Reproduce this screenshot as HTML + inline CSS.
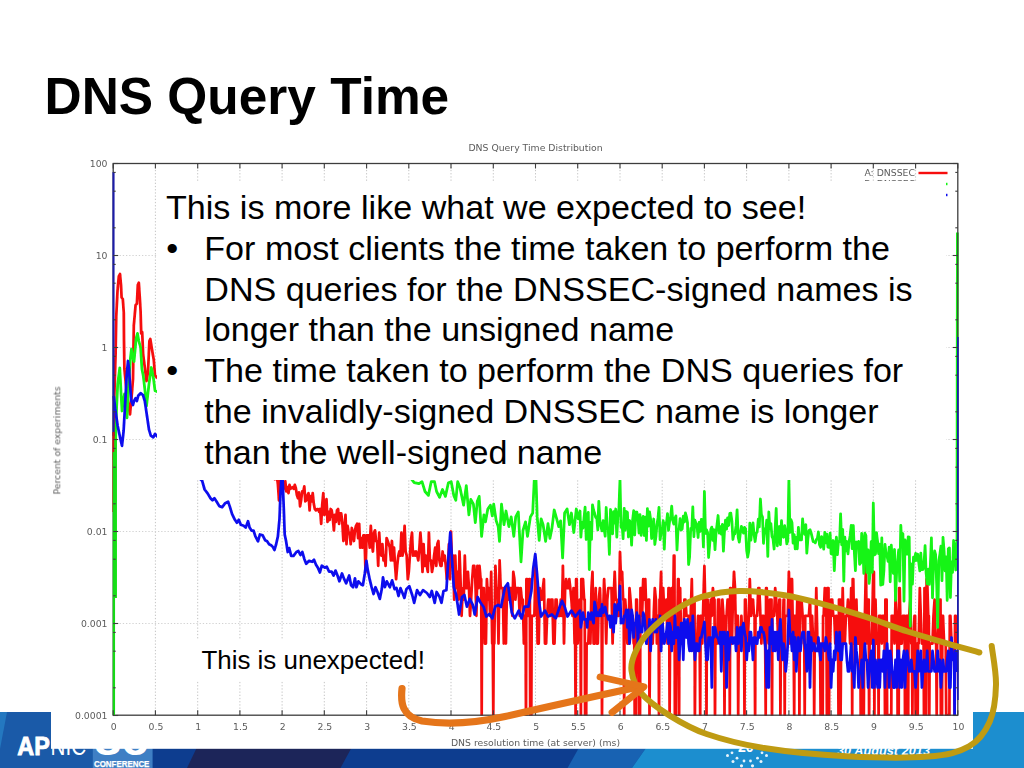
<!DOCTYPE html>
<html lang="en">
<head>
<meta charset="utf-8">
<title>DNS Query Time</title>
<style>
html,body{margin:0;padding:0;}
body{width:1024px;height:768px;position:relative;overflow:hidden;background:#fff;font-family:"Liberation Sans",sans-serif;color:#000;}
h1{position:absolute;left:44.6px;top:66.6px;margin:0;font-size:51.4px;line-height:58px;font-weight:bold;white-space:nowrap;letter-spacing:0;}
.footer{position:absolute;left:0;top:712px;width:1024px;height:56px;}
.chart{position:absolute;left:0;top:0;}
.tb{position:absolute;left:157px;top:181px;width:789px;height:299px;background:#fff;}
.tb .t{position:absolute;left:9px;top:6px;font-size:34.1px;line-height:40.8px;white-space:nowrap;}
.tb ul{list-style:none;margin:0;padding:0;}
.tb li{position:relative;padding-left:38.3px;}
.tb li .b{position:absolute;left:0.2px;top:0px;}
.ub{position:absolute;left:194px;top:639px;width:238px;height:40.5px;background:#fff;}
.ub span{position:absolute;left:7.4px;top:5.5px;font-size:25.95px;line-height:30px;white-space:nowrap;}
.ov{position:absolute;left:0;top:0;}
</style>
</head>
<body>
<h1>DNS Query Time</h1>

<svg class="footer" width="1024" height="56" viewBox="0 712 1024 56">
  <rect x="0" y="712" width="1024" height="56" fill="#0d3d8f"/>
  <polygon points="0,712 152.5,712 152.5,768 0,768" fill="#1a5aa8"/>
  <polygon points="0,712 7,712 0,749" fill="#2478c0"/>
  <polygon points="214,712 371,712 340.5,768 187,768" fill="#1c2559"/>
  <polygon points="599,712 671,712 632,768 567.6,768" fill="#1862b2"/>
  <polygon points="671,712 1024,712 1024,768 632,768" fill="#1c8ecf"/>
  <rect x="92.8" y="730" width="59.7" height="38" fill="#3f7fc4"/>
  <text x="17.3" y="755.2" font-family="'Liberation Sans',sans-serif" font-weight="bold" font-size="26" fill="#fff" stroke="#fff" stroke-width="0.9" textLength="32.5" lengthAdjust="spacingAndGlyphs">AP</text>
  <text x="50.6" y="755.2" font-family="'Liberation Sans',sans-serif" font-size="26" fill="#fff" textLength="35.5" lengthAdjust="spacingAndGlyphs">NIC</text>
  <text x="94.5" y="755.4" font-family="'Liberation Sans',sans-serif" font-weight="bold" font-size="40" fill="#fff" textLength="54" lengthAdjust="spacingAndGlyphs">36</text>
  <text x="94" y="766.7" font-family="'Liberation Sans',sans-serif" font-weight="bold" font-size="9.2" fill="#fff" stroke="#fff" stroke-width="0.25" textLength="55.4" lengthAdjust="spacingAndGlyphs">CONFERENCE</text>
  <text x="837" y="755.2" font-family="'Liberation Sans',sans-serif" font-weight="bold" font-style="italic" font-size="13" fill="#fff" textLength="93" lengthAdjust="spacingAndGlyphs">30 August 2013</text>
  <text x="738" y="751.5" font-family="'Liberation Sans',sans-serif" font-weight="bold" font-size="14" fill="#fff">20</text>
  <g fill="#e8f4fb">
    <circle cx="727.5" cy="755.5" r="1.5"/><circle cx="732" cy="752.8" r="1.4"/><circle cx="766.5" cy="755.5" r="1.5"/><circle cx="762" cy="752.8" r="1.4"/>
    <circle cx="733" cy="761.5" r="1.5"/><circle cx="737" cy="758.2" r="1.4"/><circle cx="761" cy="761.5" r="1.5"/><circle cx="757.5" cy="758.2" r="1.4"/>
    <circle cx="741.5" cy="765.8" r="1.6"/><circle cx="744" cy="761" r="1.4"/><circle cx="752.5" cy="765.8" r="1.6"/><circle cx="750.5" cy="761" r="1.4"/>
  </g>
</svg>

<svg class="chart" width="1024" height="768" viewBox="0 0 1024 768">
<rect x="51" y="133" width="922" height="615.8" fill="#fff"/>
<filter id="bl" x="0" y="0" width="1024" height="768" filterUnits="userSpaceOnUse"><feGaussianBlur stdDeviation="0.55"/></filter>
<g filter="url(#bl)">
<g stroke="#c4c4c4" stroke-width="1" stroke-dasharray="1.3 1.9" fill="none">
<line x1="155.4" y1="163.5" x2="155.4" y2="715.2"/>
<line x1="197.7" y1="163.5" x2="197.7" y2="715.2"/>
<line x1="239.9" y1="163.5" x2="239.9" y2="715.2"/>
<line x1="282.1" y1="163.5" x2="282.1" y2="715.2"/>
<line x1="324.3" y1="163.5" x2="324.3" y2="715.2"/>
<line x1="366.6" y1="163.5" x2="366.6" y2="715.2"/>
<line x1="408.8" y1="163.5" x2="408.8" y2="715.2"/>
<line x1="451.0" y1="163.5" x2="451.0" y2="715.2"/>
<line x1="493.3" y1="163.5" x2="493.3" y2="715.2"/>
<line x1="535.5" y1="163.5" x2="535.5" y2="715.2"/>
<line x1="577.7" y1="163.5" x2="577.7" y2="715.2"/>
<line x1="620.0" y1="163.5" x2="620.0" y2="715.2"/>
<line x1="662.2" y1="163.5" x2="662.2" y2="715.2"/>
<line x1="704.4" y1="163.5" x2="704.4" y2="715.2"/>
<line x1="746.6" y1="163.5" x2="746.6" y2="715.2"/>
<line x1="788.9" y1="163.5" x2="788.9" y2="715.2"/>
<line x1="831.1" y1="163.5" x2="831.1" y2="715.2"/>
<line x1="873.3" y1="163.5" x2="873.3" y2="715.2"/>
<line x1="915.6" y1="163.5" x2="915.6" y2="715.2"/>
<line x1="113.2" y1="255.5" x2="957.8" y2="255.5" stroke="#d2d2d2"/>
<line x1="113.2" y1="347.5" x2="957.8" y2="347.5" stroke="#d2d2d2"/>
<line x1="113.2" y1="439.5" x2="957.8" y2="439.5" stroke="#d2d2d2"/>
<line x1="113.2" y1="531.5" x2="957.8" y2="531.5" stroke="#d2d2d2"/>
<line x1="113.2" y1="623.5" x2="957.8" y2="623.5" stroke="#d2d2d2"/>
</g>
<clipPath id="pc"><rect x="111.7" y="163.5" width="847.6" height="552.3"/></clipPath>
<g clip-path="url(#pc)" fill="none" stroke-width="2.75" stroke-linejoin="round" stroke-linecap="butt">
<polyline stroke="#f60c0c" points="114.0,460.0 114.2,400.0 115.6,353.8 116.2,317.8 117.5,291.0 118.8,276.4 120.0,274.0 121.0,285.0 121.6,297.5 122.8,299.0 123.8,313.0 124.0,341.0 124.4,369.0 127.0,395.0 130.0,414.4 132.0,392.0 133.0,378.8 133.8,325.6 135.6,305.0 136.9,303.8 137.8,285.0 138.8,282.7 139.7,296.0 140.6,311.5 141.2,333.4 142.2,332.0 143.1,353.8 145.0,369.0 146.5,381.0 148.0,372.0 149.4,341.0 150.3,339.0 151.9,349.0 153.8,360.0 155.0,375.6 200.0,420.0 273.7,478.0 273.7,478.0 274.7,479.2 275.8,478.6 276.8,476.1 277.9,484.1 279.0,500.3 280.0,479.2 281.1,482.0 282.1,471.5 283.2,489.7 284.2,482.0 285.3,481.3 286.3,491.4 287.4,487.2 288.5,493.2 289.5,484.9 290.6,488.8 291.6,488.0 292.7,487.2 293.7,488.8 294.8,484.9 295.8,488.0 296.9,495.1 298.0,498.2 299.0,492.3 300.1,506.3 301.1,500.3 302.2,491.4 303.2,492.3 304.3,486.4 305.3,501.4 306.4,500.3 307.5,495.1 308.5,493.2 309.6,510.4 310.6,496.1 311.7,501.4 312.7,493.2 313.8,503.8 314.8,509.0 315.9,510.4 317.0,509.0 318.0,509.0 319.1,511.8 320.1,509.0 321.2,523.8 322.2,505.0 323.3,493.2 324.4,514.9 325.4,506.3 326.5,499.2 327.5,521.9 328.6,511.8 329.6,520.0 330.7,509.0 331.7,510.4 332.8,518.2 333.9,530.3 334.9,514.9 336.0,521.9 337.0,510.4 338.1,509.0 339.1,523.8 340.2,513.3 341.2,513.3 342.3,521.9 343.4,541.0 344.4,535.3 345.5,514.9 346.5,544.2 347.6,525.9 348.6,532.7 349.7,532.7 350.7,544.2 351.8,528.0 352.9,532.7 353.9,541.0 355.0,530.3 356.0,525.9 357.1,523.8 358.1,538.1 359.2,523.8 360.2,547.7 361.3,538.1 362.4,547.7 363.4,535.3 364.5,535.3 365.5,571.9 366.6,535.3 367.6,535.3 368.7,535.3 369.7,547.7 370.8,525.9 371.9,544.2 372.9,551.5 374.0,532.7 375.0,530.3 376.1,541.0 377.1,541.0 378.2,565.8 379.2,532.7 380.3,551.5 381.4,555.7 382.4,544.2 383.5,560.4 384.5,555.7 385.6,565.8 386.6,538.1 387.7,541.0 388.8,544.2 389.8,547.7 390.9,560.4 391.9,541.0 393.0,560.4 394.0,547.7 395.1,565.8 396.1,579.2 397.2,565.8 398.3,555.7 399.3,551.5 400.4,555.7 401.4,532.7 402.5,555.7 403.5,547.7 404.6,525.9 405.6,551.5 406.7,555.7 407.8,579.2 408.8,571.9 409.9,555.7 410.9,541.0 412.0,532.7 413.0,555.7 414.1,551.5 415.1,555.7 416.2,551.5 417.3,555.7 418.3,560.4 419.4,547.7 420.4,532.7 421.5,547.7 422.5,571.9 423.6,544.2 424.6,565.8 425.7,555.7 426.8,565.8 427.8,571.9 428.9,532.7 429.9,560.4 431.0,560.4 432.0,571.9 433.1,565.8 434.1,555.7 435.2,547.7 436.3,565.8 437.3,544.2 438.4,541.0 439.4,560.4 440.5,565.8 441.5,565.8 442.6,551.5 443.6,560.4 444.7,555.7 445.8,565.8 446.8,579.2 447.9,571.9 448.9,544.2 450.0,579.2 451.0,531.5 452.1,565.8 453.2,555.7 454.2,599.6 455.3,555.7 456.3,588.1 457.4,571.9 458.4,599.6 459.5,551.5 460.5,579.2 461.6,615.8 462.7,588.1 463.7,599.6 464.8,555.7 465.8,588.1 466.9,588.1 467.9,571.9 469.0,588.1 470.0,615.8 471.1,599.6 472.2,579.2 473.2,565.8 474.3,565.8 475.3,579.2 476.4,615.8 477.4,565.8 478.5,588.1 479.5,565.8 480.6,579.2 481.2,579.2 481.7,715.2 482.1,588.1 482.7,588.1 483.8,588.1 484.8,643.5 485.9,643.5 486.9,579.2 488.0,599.6 489.0,588.1 490.1,615.8 491.2,571.9 492.2,643.5 492.8,643.5 493.3,715.2 493.7,643.5 494.3,643.5 495.4,565.8 496.4,588.1 497.5,588.1 498.5,643.5 499.6,560.4 500.7,588.1 501.7,588.1 502.8,588.1 503.8,643.5 504.9,588.1 505.9,643.5 507.0,588.1 508.1,599.6 509.1,588.1 510.2,588.1 511.2,588.1 512.3,615.8 513.3,571.9 514.4,579.2 515.4,599.6 516.5,588.1 517.6,588.1 518.6,588.1 519.7,615.8 520.7,588.1 521.8,599.6 522.8,599.6 523.9,643.5 524.9,615.8 525.5,615.8 526.0,715.2 526.4,579.2 527.1,579.2 528.1,615.8 529.2,579.2 529.8,579.2 530.2,715.2 531.3,715.2 531.7,615.8 532.3,615.8 533.4,615.8 534.4,615.8 535.5,566.0 536.6,579.2 537.6,643.5 538.7,643.5 539.7,588.1 540.8,599.6 541.8,599.6 542.9,588.1 543.9,579.2 545.0,643.5 546.1,643.5 547.1,615.8 548.2,599.6 549.2,599.6 550.3,615.8 551.3,599.6 552.4,599.6 553.4,643.5 554.5,643.5 555.6,599.6 556.6,599.6 557.7,615.8 558.7,615.8 559.8,615.8 560.8,599.6 561.9,615.8 562.9,565.8 564.0,643.5 565.1,588.1 566.1,579.2 567.2,588.1 568.2,588.1 569.3,579.2 570.3,588.1 571.4,599.6 572.5,615.8 573.5,588.1 574.6,643.5 575.2,643.5 575.6,715.2 576.1,579.2 576.7,579.2 577.7,643.5 578.8,615.8 579.8,599.6 580.4,599.6 580.9,715.2 581.3,579.2 582.0,579.2 583.0,579.2 584.1,599.6 584.7,599.6 585.1,715.2 586.2,715.2 586.6,643.5 587.2,643.5 588.3,643.5 589.3,615.8 590.4,643.5 591.5,588.1 592.5,571.9 593.6,643.5 594.6,643.5 595.7,588.1 596.7,643.5 597.8,643.5 598.8,599.6 599.9,588.1 601.0,615.8 601.6,615.8 602.0,715.2 602.5,615.8 603.1,615.8 604.1,579.2 605.2,599.6 606.2,643.5 607.3,599.6 608.3,588.1 609.4,588.1 610.5,588.1 611.5,588.1 612.6,643.5 613.6,599.6 614.7,571.9 615.7,599.6 616.8,599.6 617.8,615.8 618.9,615.8 620.0,552.0 621.0,579.2 622.1,571.9 623.1,599.6 623.7,599.6 624.2,715.2 624.6,599.6 625.2,599.6 626.3,615.8 627.4,643.5 628.4,643.5 629.5,588.1 630.5,599.6 631.6,615.8 632.6,615.8 633.7,643.5 634.3,643.5 634.7,715.2 635.8,715.2 636.2,599.6 636.9,599.6 637.9,643.5 638.5,643.5 639.0,715.2 640.0,715.2 640.5,588.1 641.1,588.1 642.1,615.8 643.2,579.2 644.2,599.6 645.3,579.2 646.4,615.8 647.4,643.5 648.5,599.6 649.1,599.6 649.5,715.2 650.0,643.5 650.6,643.5 651.6,643.5 652.7,643.5 653.7,615.8 654.8,588.1 655.9,599.6 656.9,643.5 658.0,615.8 658.6,615.8 659.0,715.2 659.5,599.6 660.1,599.6 661.1,571.9 662.2,643.5 663.2,588.1 664.3,615.8 665.4,615.8 666.4,599.6 667.5,643.5 668.5,588.1 669.1,588.1 669.6,715.2 670.0,643.5 670.6,643.5 671.7,588.1 672.7,643.5 673.8,555.7 674.4,555.7 674.9,715.2 675.9,715.2 676.4,643.5 677.0,643.5 678.0,579.2 678.6,579.2 679.1,715.2 679.5,588.1 680.1,588.1 681.2,643.5 682.2,643.5 683.3,643.5 684.4,599.6 685.4,599.6 686.5,615.8 687.5,615.8 688.6,615.8 689.6,643.5 690.7,615.8 691.8,579.2 692.8,643.5 693.9,599.6 694.5,599.6 694.9,715.2 695.4,643.5 696.0,643.5 697.0,643.5 698.1,615.8 699.1,643.5 699.7,643.5 700.2,715.2 700.6,615.8 701.3,615.8 702.3,643.5 703.4,599.6 704.4,566.0 705.5,615.8 706.1,615.8 706.5,715.2 707.0,599.6 707.6,599.6 708.6,615.8 709.7,643.5 710.8,599.6 711.8,615.8 712.9,588.1 713.9,599.6 714.5,599.6 715.0,715.2 715.4,643.5 716.0,643.5 717.1,643.5 718.1,599.6 719.2,599.6 720.3,643.5 721.3,643.5 722.4,599.6 723.4,615.8 724.0,615.8 724.5,715.2 724.9,643.5 725.5,643.5 726.6,615.8 727.6,599.6 728.7,599.6 729.3,599.6 729.8,715.2 730.2,588.1 730.8,588.1 731.9,643.5 732.9,599.6 734.0,571.9 735.0,588.1 736.1,643.5 737.1,615.8 737.8,615.8 738.2,715.2 738.7,643.5 739.3,643.5 740.3,643.5 741.4,615.8 742.4,643.5 743.5,643.5 744.1,643.5 744.5,715.2 745.0,599.6 745.6,599.6 746.7,643.5 747.7,643.5 748.8,615.8 749.8,579.2 750.9,615.8 751.9,599.6 753.0,599.6 754.0,615.8 754.6,615.8 755.1,715.2 755.5,615.8 756.2,615.8 757.2,615.8 758.3,588.1 759.3,588.1 760.4,615.8 761.4,643.5 762.5,615.8 763.5,615.8 764.6,643.5 765.2,643.5 765.7,715.2 766.1,588.1 766.7,588.1 767.8,615.8 768.8,643.5 769.9,599.6 770.9,599.6 771.5,599.6 772.0,715.2 772.4,615.8 773.0,615.8 774.1,615.8 775.2,588.1 776.2,599.6 777.3,615.8 778.3,643.5 779.4,599.6 780.0,599.6 780.4,715.2 780.9,643.5 781.5,643.5 782.5,643.5 783.6,599.6 784.2,599.6 784.7,715.2 785.1,615.8 785.7,615.8 786.8,615.8 787.8,615.8 788.9,571.9 789.9,643.5 791.0,579.2 792.0,579.2 793.1,643.5 793.7,643.5 794.2,715.2 794.6,615.8 795.2,615.8 796.3,643.5 797.3,599.6 798.4,599.6 799.0,599.6 799.4,715.2 799.9,615.8 800.5,615.8 801.5,599.6 802.6,615.8 803.7,643.5 804.3,643.5 804.7,715.2 805.2,615.8 805.8,615.8 806.8,615.8 807.9,615.8 808.9,615.8 810.0,599.6 811.1,643.5 812.1,615.8 813.2,643.5 813.8,643.5 814.2,715.2 814.7,643.5 815.3,643.5 816.3,588.1 817.4,643.5 818.4,643.5 819.5,643.5 820.1,643.5 820.6,715.2 821.6,715.2 822.7,715.2 823.1,615.8 823.7,615.8 824.8,588.1 825.8,615.8 826.4,615.8 826.9,715.2 827.3,588.1 827.9,588.1 828.5,588.1 829.0,715.2 829.4,643.5 830.1,643.5 831.1,599.6 832.2,599.6 833.2,615.8 834.3,615.8 835.3,643.5 836.4,615.8 837.4,643.5 838.1,643.5 838.5,715.2 839.0,599.6 839.6,599.6 840.2,599.6 840.6,715.2 841.1,643.5 841.7,643.5 842.7,588.1 843.8,643.5 844.8,643.5 845.9,615.8 846.9,615.8 848.0,599.6 849.1,615.8 850.1,643.5 851.2,588.1 851.8,588.1 852.2,715.2 852.7,579.2 853.3,579.2 854.3,643.5 855.4,643.5 856.4,599.6 857.5,643.5 858.6,643.5 859.6,615.8 860.2,615.8 860.7,715.2 861.7,715.2 862.2,615.8 862.8,615.8 863.4,615.8 863.8,715.2 864.3,615.8 864.9,615.8 865.9,565.8 867.0,643.5 868.1,599.6 868.7,599.6 869.1,715.2 869.6,643.5 870.2,643.5 871.2,643.5 872.3,615.8 873.3,571.9 873.9,571.9 874.4,715.2 874.8,599.6 875.5,599.6 876.5,643.5 877.6,643.5 878.2,643.5 878.6,715.2 879.1,615.8 879.7,615.8 880.7,615.8 881.8,643.5 882.8,615.8 883.9,615.8 884.5,615.8 885.0,715.2 885.4,599.6 886.0,599.6 886.6,599.6 887.1,715.2 888.1,715.2 889.2,715.2 890.2,715.2 891.3,715.2 891.7,615.8 892.3,615.8 893.4,615.8 894.5,643.5 895.5,599.6 896.6,615.8 897.2,615.8 897.6,715.2 898.7,715.2 899.1,588.1 899.7,588.1 900.8,643.5 901.8,643.5 902.9,615.8 904.0,615.8 904.6,615.8 905.0,715.2 906.1,715.2 906.5,615.8 907.1,615.8 907.7,615.8 908.2,715.2 908.6,615.8 909.2,615.8 910.3,599.6 911.3,643.5 912.0,643.5 912.4,715.2 912.9,643.5 913.5,643.5 914.5,615.8 915.1,615.8 915.6,715.2 916.0,643.5 916.6,643.5 917.2,643.5 917.7,715.2 918.1,643.5 918.7,643.5 919.8,588.1 920.8,615.8 921.9,643.5 923.0,643.5 923.6,643.5 924.0,715.2 924.5,588.1 925.1,588.1 925.7,588.1 926.1,715.2 926.6,579.2 927.2,579.2 928.2,615.8 928.8,615.8 929.3,715.2 929.7,643.5 930.4,643.5 931.4,643.5 932.5,643.5 933.5,615.8 934.6,599.6 935.6,643.5 936.2,643.5 936.7,715.2 937.1,643.5 937.7,643.5 938.8,615.8 939.9,599.6 940.5,599.6 940.9,715.2 942.0,715.2 942.4,615.8 943.0,615.8 944.1,643.5 945.1,643.5 945.7,643.5 946.2,715.2 947.2,715.2 948.3,715.2 949.4,715.2 949.8,615.8 950.4,615.8 951.5,643.5 952.5,643.5 953.6,643.5 954.2,643.5 954.6,715.2 955.1,615.8 955.7,615.8 956.7,643.5"/>
<polyline stroke="#12f412" points="115.5,598.0 115.6,440.0 116.5,410.0 117.7,384.0 119.8,367.8 121.0,392.0 122.0,411.0 123.2,402.0 124.5,394.0 125.8,405.0 127.0,417.8 128.7,384.0 130.4,358.5 131.5,349.0 132.5,356.8 134.0,361.5 136.2,338.0 137.5,333.4 138.8,341.0 140.6,347.5 141.9,369.0 143.3,376.0 144.8,389.0 146.5,406.0 149.0,384.0 151.3,367.5 153.3,377.0 155.0,390.7 250.0,430.0 409.0,476.0 409.0,476.0 414.2,482.7 419.0,483.7 422.0,481.7 425.0,491.5 428.4,495.4 431.2,481.7 434.5,481.7 436.6,491.5 439.6,497.3 442.5,489.5 445.4,496.4 448.4,482.7 451.2,481.7 453.8,495.4 455.8,500.3 457.7,481.7 460.0,487.6 463.6,505.2 466.3,485.6 468.9,514.9 470.8,499.3 473.4,504.2 475.3,522.7 477.3,501.2 479.2,496.4 481.6,536.4 483.9,514.9 485.5,521.8 487.8,509.0 490.4,505.2 492.3,515.9 493.7,504.2 496.2,520.8 498.2,526.6 499.5,541.3 501.5,504.2 504.0,524.7 506.0,511.0 508.9,526.6 511.2,516.9 513.8,536.4 515.7,516.9 518.3,512.0 521.0,561.8 523.0,530.5 525.5,521.8 527.5,536.4 530.4,516.9 532.7,513.0 534.3,479.0 536.0,479.0 537.2,516.9 539.2,540.3 541.1,518.8 543.1,524.7 545.6,541.3 548.0,523.7 549.9,538.4 551.9,528.6 554.2,510.0 556.7,518.8 558.7,526.6 560.6,520.8 562.6,557.9 564.6,513.0 567.1,509.0 569.5,524.7 571.4,513.0 573.8,532.5 576.3,509.0 578.2,518.8 580.0,511.0 580.9,537.1 582.0,522.6 583.0,528.1 584.1,517.1 585.1,507.1 586.2,539.5 587.2,518.4 588.3,512.3 589.3,569.6 590.4,522.5 591.5,539.4 592.5,504.9 593.6,510.2 594.6,513.1 595.7,517.5 596.7,517.2 597.8,529.9 598.8,501.4 599.9,521.5 601.0,526.9 602.0,530.8 603.1,520.6 604.1,528.9 605.2,536.2 606.2,507.5 607.3,527.4 608.3,529.7 609.4,554.4 610.5,509.5 611.5,517.1 612.6,533.8 613.6,511.6 614.7,523.2 615.7,509.0 616.8,537.1 617.8,517.6 618.9,509.2 620.0,479.0 621.0,527.3 622.1,524.2 623.1,538.7 624.2,508.4 625.2,530.2 626.3,511.5 627.4,512.4 628.4,537.0 629.5,520.5 630.5,523.5 631.6,545.2 632.6,520.2 633.7,510.6 634.7,535.0 635.8,512.1 636.9,512.2 637.9,516.7 639.0,533.0 640.0,514.7 641.1,535.3 642.1,521.0 643.2,516.3 644.2,535.5 645.3,517.2 646.4,540.4 647.4,508.6 648.5,526.1 649.5,511.8 650.6,519.2 651.6,538.5 652.7,529.2 653.7,519.0 654.8,544.5 655.9,536.7 656.9,524.8 658.0,517.9 659.0,507.4 660.1,539.7 661.1,532.9 662.2,530.0 663.2,520.6 664.3,549.2 665.4,523.0 666.4,523.9 667.5,513.6 668.5,530.3 669.6,521.0 670.6,517.3 671.7,506.1 672.7,520.4 673.8,524.1 674.9,518.6 675.9,515.9 677.0,549.9 678.0,530.0 679.1,529.1 680.1,518.6 681.2,530.0 682.2,528.8 683.3,516.2 684.4,522.0 685.4,512.9 686.5,516.9 687.5,522.8 688.6,564.5 689.6,556.8 690.7,528.5 691.8,529.4 692.8,506.9 693.9,536.6 694.9,520.1 696.0,523.5 697.0,525.4 698.1,537.5 699.1,522.4 700.2,531.5 701.3,519.3 702.3,519.7 703.4,546.9 704.4,491.5 705.5,533.3 706.5,529.7 707.6,532.7 708.6,557.5 709.7,544.5 710.8,529.3 711.8,527.1 712.9,540.3 713.9,529.6 715.0,549.7 716.0,533.1 717.1,523.8 718.1,515.5 719.2,533.1 720.3,526.7 721.3,534.0 722.4,524.4 723.4,551.1 724.5,530.6 725.5,520.1 726.6,529.1 727.6,517.8 728.7,525.5 729.8,513.3 730.8,513.1 731.9,521.1 732.9,539.5 734.0,533.4 735.0,533.8 736.1,525.4 737.1,509.9 738.2,537.3 739.3,542.2 740.3,533.5 741.4,526.3 742.4,529.6 743.5,533.1 744.5,527.3 745.6,528.9 746.7,550.9 747.7,557.1 748.8,550.7 749.8,523.2 750.9,540.2 751.9,529.4 753.0,522.9 754.0,533.9 755.1,541.5 756.2,533.3 757.2,531.9 758.3,519.1 759.3,526.9 760.4,499.0 761.4,514.7 762.5,517.0 763.5,543.3 764.6,529.2 765.7,532.9 766.7,520.2 767.8,556.4 768.8,512.0 769.9,528.8 770.9,523.7 772.0,536.7 773.0,538.5 774.1,549.0 775.2,528.0 776.2,508.5 777.3,545.8 778.3,533.3 779.4,526.5 780.4,544.7 781.5,520.7 782.5,535.5 783.6,537.2 784.7,525.6 785.7,532.0 786.8,543.9 787.8,540.6 788.9,479.0 789.9,532.5 791.0,519.7 792.0,522.6 793.1,543.1 794.2,534.7 795.2,548.9 796.3,537.3 797.3,548.8 798.4,527.3 799.4,539.8 800.5,539.9 801.5,539.9 802.6,518.9 803.7,531.9 804.7,534.3 805.8,524.6 806.8,553.2 807.9,538.8 808.9,530.6 810.0,529.7 811.1,532.8 812.1,537.1 813.2,541.7 814.2,541.7 815.3,542.9 816.3,539.6 817.4,538.3 818.4,531.9 819.5,544.8 820.6,547.2 821.6,536.7 822.7,540.7 823.7,549.1 824.8,532.4 825.8,542.8 826.9,534.2 827.9,547.2 829.0,547.4 830.1,533.2 831.1,553.7 832.2,554.1 833.2,540.5 834.3,570.6 835.3,548.0 836.4,537.2 837.4,554.6 838.5,541.3 839.6,541.5 840.6,513.9 841.7,544.8 842.7,529.4 843.8,581.2 844.8,537.1 845.9,550.9 846.9,541.5 848.0,553.8 849.1,541.4 850.1,535.9 851.2,525.4 852.2,548.7 853.3,525.5 854.3,551.1 855.4,570.6 856.4,542.0 857.5,544.6 858.6,541.3 859.6,564.3 860.7,562.9 861.7,533.4 862.8,541.2 863.8,573.4 864.9,533.2 865.9,535.5 867.0,572.5 868.1,549.9 869.1,583.4 870.2,572.3 871.2,541.6 872.3,572.3 873.3,503.0 874.4,554.9 875.5,553.9 876.5,532.6 877.6,541.6 878.6,553.7 879.7,544.2 880.7,585.1 881.8,537.8 882.8,584.5 883.9,570.7 885.0,544.4 886.0,553.2 887.1,556.2 888.1,561.4 889.2,547.2 890.2,581.8 891.3,545.2 892.3,562.8 893.4,573.4 894.5,549.5 895.5,600.5 896.6,572.4 897.6,560.7 898.7,549.8 899.7,581.2 900.8,525.4 901.8,543.2 902.9,533.7 904.0,601.2 905.0,539.8 906.1,546.0 907.1,554.2 908.2,536.8 909.2,537.0 910.3,626.3 911.3,564.0 912.4,584.1 913.5,557.1 914.5,561.1 915.6,553.4 916.6,560.3 917.7,554.2 918.7,562.1 919.8,570.9 920.8,553.1 921.9,569.7 923.0,569.5 924.0,563.9 925.1,545.7 926.1,572.8 927.2,583.9 928.2,569.2 929.3,584.3 930.4,564.2 931.4,537.8 932.5,597.8 933.5,564.9 934.6,550.9 935.6,554.6 936.7,584.7 937.7,627.5 938.8,560.8 939.9,554.1 940.9,546.1 942.0,580.7 943.0,537.3 944.1,551.2 945.1,570.9 946.2,556.9 947.2,600.4 948.3,548.8 949.4,547.9 950.4,597.5 951.5,562.0 952.5,572.5 953.6,540.5 954.6,546.8 955.7,570.0 957.0,540.0 957.4,232.5"/>
<polyline stroke="#0e0eee" points="113.7,396.0 114.2,400.0 115.2,409.0 117.7,426.0 120.2,438.0 122.0,445.8 123.6,431.0 125.3,401.0 126.7,375.4 128.0,361.0 129.0,368.6 130.0,384.0 131.3,401.0 133.0,405.0 134.0,401.0 135.5,398.3 136.9,401.0 138.2,395.8 140.6,393.2 143.0,395.0 144.8,401.0 147.0,416.0 149.0,429.7 150.8,435.6 153.3,437.3 155.0,434.0 175.0,455.0 202.1,480.7 202.1,480.7 204.6,489.5 207.6,493.4 210.5,498.3 212.5,500.3 214.4,498.3 216.4,501.2 219.3,506.1 222.2,507.1 225.2,503.2 228.1,501.6 230.0,507.1 232.0,513.9 234.9,519.8 236.9,522.7 238.8,519.8 240.8,524.7 243.7,525.7 245.7,527.6 248.0,521.2 249.6,527.6 251.5,530.5 253.5,530.5 255.4,536.4 258.0,541.3 259.9,534.5 262.7,535.4 265.2,540.3 267.1,541.3 269.1,544.2 271.1,545.2 273.0,547.1 274.4,550.0 275.9,545.2 277.9,536.4 279.5,518.8 280.4,495.4 281.4,478.0 282.6,478.0 283.8,509.0 284.7,534.5 286.1,541.3 287.7,552.0 289.2,548.1 291.2,555.9 293.5,555.9 296.4,552.0 298.4,551.0 300.4,555.0 302.3,552.0 304.3,558.9 306.2,563.8 309.1,560.8 312.1,561.8 314.0,559.8 316.0,564.7 317.9,567.7 319.9,572.5 321.8,565.7 324.8,567.7 326.7,566.7 329.1,571.6 331.6,571.6 333.6,575.5 335.5,570.6 337.5,575.5 339.4,581.3 342.0,573.5 344.3,579.4 346.2,583.3 349.2,575.5 351.1,585.2 353.1,587.2 355.0,578.4 356.4,587.2 358.4,581.3 360.9,584.2 362.9,585.2 364.8,573.5 366.4,560.8 367.7,569.6 369.7,579.4 371.6,587.2 373.6,594.0 375.5,587.2 377.5,592.0 379.8,598.9 381.8,589.1 383.0,577.4 384.9,587.2 386.8,581.3 389.8,587.2 392.1,580.4 394.6,589.1 396.5,588.0 398.5,596.0 400.5,588.2 402.5,593.0 404.4,597.9 406.4,589.1 409.3,586.2 412.2,595.0 414.2,602.8 417.1,590.1 420.0,595.0 423.0,590.1 426.9,593.0 429.8,597.0 431.8,591.0 434.7,602.8 436.6,592.0 439.6,597.0 441.5,602.8 443.5,591.0 446.4,590.1 448.4,557.9 450.3,532.5 451.9,557.9 453.8,587.2 456.2,595.0 459.1,614.5 462.0,597.0 464.4,595.0 466.9,606.7 469.8,598.9 472.8,604.8 474.7,614.5 477.7,597.0 480.6,602.8 483.5,606.7 486.4,616.5 489.3,614.0 492.3,618.4 495.2,606.7 498.2,604.8 501.0,607.0 505.0,587.2 507.9,583.3 509.9,598.9 511.8,612.6 514.8,618.4 518.7,610.6 521.6,618.4 524.5,606.7 528.4,606.7 531.4,591.0 533.3,567.7 535.3,554.0 537.2,575.5 539.2,602.8 541.1,616.5 545.0,610.6 548.0,616.5 551.9,614.5 555.8,618.4 559.7,606.7 562.0,600.9 564.6,606.7 567.5,616.5 571.4,610.6 575.3,616.5 580.0,610.6 580.9,627.4 582.0,619.4 583.0,612.7 584.1,619.4 585.1,619.4 586.2,619.4 587.2,627.4 588.3,612.7 589.3,615.9 590.4,619.4 591.5,612.7 592.5,619.4 593.6,623.2 594.6,602.0 595.7,607.0 596.7,615.9 597.8,612.7 598.8,615.9 599.9,609.8 601.0,615.9 602.0,604.4 603.1,612.7 604.1,609.8 605.2,607.0 606.2,612.7 607.3,615.9 608.3,619.4 609.4,615.9 610.5,627.4 611.5,615.9 612.6,619.4 613.6,632.1 614.7,604.4 615.7,623.2 616.8,609.8 617.8,604.4 618.9,609.8 620.0,586.0 621.0,623.2 622.1,619.4 623.1,623.2 624.2,615.9 625.2,615.9 626.3,609.8 627.4,627.4 628.4,609.8 629.5,643.6 630.5,632.1 631.6,609.8 632.6,615.9 633.7,637.5 634.7,623.2 635.8,623.2 636.9,612.7 637.9,643.6 639.0,615.9 640.0,632.1 641.1,627.4 642.1,632.1 643.2,612.7 644.2,615.9 645.3,627.4 646.4,643.6 647.4,632.1 648.5,632.1 649.5,619.4 650.6,650.9 651.6,627.4 652.7,619.4 653.7,623.2 654.8,632.1 655.9,619.4 656.9,632.1 658.0,623.2 659.0,627.4 660.1,615.9 661.1,650.9 662.2,619.4 663.2,632.1 664.3,643.6 665.4,637.5 666.4,632.1 667.5,623.2 668.5,643.6 669.6,623.2 670.6,627.4 671.7,650.9 672.7,632.1 673.8,643.6 674.9,615.9 675.9,637.5 677.0,637.5 678.0,627.4 679.1,659.8 680.1,643.6 681.2,623.2 682.2,623.2 683.3,659.8 684.4,619.4 685.4,627.4 686.5,637.5 687.5,619.4 688.6,643.6 689.6,650.9 690.7,623.2 691.8,650.9 692.8,615.9 693.9,637.5 694.9,659.8 696.0,643.6 697.0,643.6 698.1,650.9 699.1,650.9 700.2,637.5 701.3,637.5 702.3,632.1 703.4,627.4 704.4,622.0 705.5,643.6 706.5,659.8 707.6,659.8 708.6,637.5 709.7,637.5 710.8,637.5 711.8,687.5 712.9,627.4 713.9,637.5 715.0,627.4 716.0,632.1 717.1,637.5 718.1,637.5 719.2,643.6 720.3,632.1 721.3,671.3 722.4,632.1 723.4,643.6 724.5,632.1 725.5,643.6 726.6,687.5 727.6,632.1 728.7,659.8 729.8,643.6 730.8,637.5 731.9,637.5 732.9,643.6 734.0,637.5 735.0,637.5 736.1,650.9 737.1,627.4 738.2,643.6 739.3,632.1 740.3,627.4 741.4,650.9 742.4,627.4 743.5,623.2 744.5,632.1 745.6,637.5 746.7,659.8 747.7,643.6 748.8,650.9 749.8,632.1 750.9,632.1 751.9,643.6 753.0,659.8 754.0,637.5 755.1,637.5 756.2,643.6 757.2,643.6 758.3,632.1 759.3,637.5 760.4,627.4 761.4,627.4 762.5,632.1 763.5,632.1 764.6,637.5 765.7,650.9 766.7,687.5 767.8,650.9 768.8,687.5 769.9,627.4 770.9,643.6 772.0,619.4 773.0,650.9 774.1,632.1 775.2,650.9 776.2,632.1 777.3,632.1 778.3,659.8 779.4,632.1 780.4,619.4 781.5,643.6 782.5,659.8 783.6,643.6 784.7,650.9 785.7,671.3 786.8,659.8 787.8,643.6 788.9,610.0 789.9,632.1 791.0,637.5 792.0,650.9 793.1,632.1 794.2,659.8 795.2,637.5 796.3,671.3 797.3,650.9 798.4,637.5 799.4,650.9 800.5,650.9 801.5,637.5 802.6,632.1 803.7,632.1 804.7,643.6 805.8,650.9 806.8,671.3 807.9,632.1 808.9,632.1 810.0,687.5 811.1,637.5 812.1,650.9 813.2,643.6 814.2,643.6 815.3,650.9 816.3,650.9 817.4,650.9 818.4,637.5 819.5,650.9 820.6,659.8 821.6,643.6 822.7,643.6 823.7,643.6 824.8,650.9 825.8,637.5 826.9,643.6 827.9,650.9 829.0,659.8 830.1,643.6 831.1,687.5 832.2,659.8 833.2,671.3 834.3,650.9 835.3,659.8 836.4,632.1 837.4,643.6 838.5,650.9 839.6,632.1 840.6,659.8 841.7,659.8 842.7,643.6 843.8,643.6 844.8,643.6 845.9,643.6 846.9,659.8 848.0,671.3 849.1,671.3 850.1,659.8 851.2,643.6 852.2,671.3 853.3,671.3 854.3,687.5 855.4,637.5 856.4,650.9 857.5,659.8 858.6,687.5 859.6,671.3 860.7,671.3 861.7,659.8 862.8,687.5 863.8,659.8 864.9,643.6 865.9,659.8 867.0,659.8 868.1,687.5 869.1,671.3 870.2,659.8 871.2,650.9 872.3,687.5 873.3,640.0 874.4,687.5 875.5,659.8 876.5,671.3 877.6,687.5 878.6,659.8 879.7,687.5 880.7,659.8 881.8,659.8 882.8,671.3 883.9,650.9 885.0,687.5 886.0,659.8 887.1,643.6 888.1,659.8 889.2,687.5 890.2,650.9 891.3,659.8 892.3,671.3 893.4,687.5 894.5,687.5 895.5,659.8 896.6,687.5 897.6,650.9 898.7,650.9 899.7,687.5 900.8,659.8 901.8,687.5 902.9,659.8 904.0,650.9 905.0,687.5 906.1,659.8 907.1,650.9 908.2,659.8 909.2,671.3 910.3,671.3 911.3,659.8 912.4,671.3 913.5,671.3 914.5,671.3 915.6,687.5 916.6,671.3 917.7,650.9 918.7,671.3 919.8,659.8 920.8,650.9 921.9,687.5 923.0,671.3 924.0,659.8 925.1,671.3 926.1,671.3 927.2,650.9 928.2,671.3 929.3,671.3 930.4,671.3 931.4,671.3 932.5,650.9 933.5,659.8 934.6,671.3 935.6,671.3 936.7,671.3 937.7,650.9 938.8,671.3 939.9,659.8 940.9,687.5 942.0,671.3 943.0,659.8 944.1,671.3 945.1,671.3 946.2,671.3 947.2,659.8 948.3,650.9 949.4,687.5 950.4,687.5 951.5,637.5 952.5,659.8 953.6,659.8 954.2,659.8 954.6,715.2 955.0,650.9 955.7,650.9 956.7,659.8 957.0,672.0"/>
</g>
<rect x="113.2" y="163.5" width="844.6" height="551.7" fill="none" stroke="#3c3c3c" stroke-width="1.3"/>
<line x1="113.5" y1="172" x2="113.5" y2="436" stroke="#1a1aa8" stroke-width="2.1"/>
<line x1="113.5" y1="432" x2="113.5" y2="512" stroke="#c81414" stroke-width="2.2"/>
<line x1="113.9" y1="452" x2="113.9" y2="715" stroke="#18d818" stroke-width="2.3"/>
<line x1="115.5" y1="440" x2="115.5" y2="598" stroke="#18e018" stroke-width="2.4"/>
<line x1="957.9" y1="337" x2="957.9" y2="700" stroke="#1a1ab0" stroke-width="1.7"/>
<g stroke="#3c3c3c" stroke-width="1.1">
<line x1="113.2" y1="715.2" x2="113.2" y2="710.2"/>
<line x1="113.2" y1="163.5" x2="113.2" y2="168.5"/>
<line x1="155.4" y1="715.2" x2="155.4" y2="710.2"/>
<line x1="155.4" y1="163.5" x2="155.4" y2="168.5"/>
<line x1="197.7" y1="715.2" x2="197.7" y2="710.2"/>
<line x1="197.7" y1="163.5" x2="197.7" y2="168.5"/>
<line x1="239.9" y1="715.2" x2="239.9" y2="710.2"/>
<line x1="239.9" y1="163.5" x2="239.9" y2="168.5"/>
<line x1="282.1" y1="715.2" x2="282.1" y2="710.2"/>
<line x1="282.1" y1="163.5" x2="282.1" y2="168.5"/>
<line x1="324.3" y1="715.2" x2="324.3" y2="710.2"/>
<line x1="324.3" y1="163.5" x2="324.3" y2="168.5"/>
<line x1="366.6" y1="715.2" x2="366.6" y2="710.2"/>
<line x1="366.6" y1="163.5" x2="366.6" y2="168.5"/>
<line x1="408.8" y1="715.2" x2="408.8" y2="710.2"/>
<line x1="408.8" y1="163.5" x2="408.8" y2="168.5"/>
<line x1="451.0" y1="715.2" x2="451.0" y2="710.2"/>
<line x1="451.0" y1="163.5" x2="451.0" y2="168.5"/>
<line x1="493.3" y1="715.2" x2="493.3" y2="710.2"/>
<line x1="493.3" y1="163.5" x2="493.3" y2="168.5"/>
<line x1="535.5" y1="715.2" x2="535.5" y2="710.2"/>
<line x1="535.5" y1="163.5" x2="535.5" y2="168.5"/>
<line x1="577.7" y1="715.2" x2="577.7" y2="710.2"/>
<line x1="577.7" y1="163.5" x2="577.7" y2="168.5"/>
<line x1="620.0" y1="715.2" x2="620.0" y2="710.2"/>
<line x1="620.0" y1="163.5" x2="620.0" y2="168.5"/>
<line x1="662.2" y1="715.2" x2="662.2" y2="710.2"/>
<line x1="662.2" y1="163.5" x2="662.2" y2="168.5"/>
<line x1="704.4" y1="715.2" x2="704.4" y2="710.2"/>
<line x1="704.4" y1="163.5" x2="704.4" y2="168.5"/>
<line x1="746.6" y1="715.2" x2="746.6" y2="710.2"/>
<line x1="746.6" y1="163.5" x2="746.6" y2="168.5"/>
<line x1="788.9" y1="715.2" x2="788.9" y2="710.2"/>
<line x1="788.9" y1="163.5" x2="788.9" y2="168.5"/>
<line x1="831.1" y1="715.2" x2="831.1" y2="710.2"/>
<line x1="831.1" y1="163.5" x2="831.1" y2="168.5"/>
<line x1="873.3" y1="715.2" x2="873.3" y2="710.2"/>
<line x1="873.3" y1="163.5" x2="873.3" y2="168.5"/>
<line x1="915.6" y1="715.2" x2="915.6" y2="710.2"/>
<line x1="915.6" y1="163.5" x2="915.6" y2="168.5"/>
<line x1="957.8" y1="715.2" x2="957.8" y2="710.2"/>
<line x1="957.8" y1="163.5" x2="957.8" y2="168.5"/>
<line x1="113.2" y1="163.5" x2="118.2" y2="163.5"/>
<line x1="957.8" y1="163.5" x2="952.8" y2="163.5"/>
<line x1="113.2" y1="227.8" x2="115.7" y2="227.8"/>
<line x1="957.8" y1="227.8" x2="955.3" y2="227.8"/>
<line x1="113.2" y1="191.2" x2="115.7" y2="191.2"/>
<line x1="957.8" y1="191.2" x2="955.3" y2="191.2"/>
<line x1="113.2" y1="172.4" x2="115.7" y2="172.4"/>
<line x1="957.8" y1="172.4" x2="955.3" y2="172.4"/>
<line x1="113.2" y1="255.5" x2="118.2" y2="255.5"/>
<line x1="957.8" y1="255.5" x2="952.8" y2="255.5"/>
<line x1="113.2" y1="319.8" x2="115.7" y2="319.8"/>
<line x1="957.8" y1="319.8" x2="955.3" y2="319.8"/>
<line x1="113.2" y1="283.2" x2="115.7" y2="283.2"/>
<line x1="957.8" y1="283.2" x2="955.3" y2="283.2"/>
<line x1="113.2" y1="264.4" x2="115.7" y2="264.4"/>
<line x1="957.8" y1="264.4" x2="955.3" y2="264.4"/>
<line x1="113.2" y1="347.5" x2="118.2" y2="347.5"/>
<line x1="957.8" y1="347.5" x2="952.8" y2="347.5"/>
<line x1="113.2" y1="411.8" x2="115.7" y2="411.8"/>
<line x1="957.8" y1="411.8" x2="955.3" y2="411.8"/>
<line x1="113.2" y1="375.2" x2="115.7" y2="375.2"/>
<line x1="957.8" y1="375.2" x2="955.3" y2="375.2"/>
<line x1="113.2" y1="356.4" x2="115.7" y2="356.4"/>
<line x1="957.8" y1="356.4" x2="955.3" y2="356.4"/>
<line x1="113.2" y1="439.5" x2="118.2" y2="439.5"/>
<line x1="957.8" y1="439.5" x2="952.8" y2="439.5"/>
<line x1="113.2" y1="503.8" x2="115.7" y2="503.8"/>
<line x1="957.8" y1="503.8" x2="955.3" y2="503.8"/>
<line x1="113.2" y1="467.2" x2="115.7" y2="467.2"/>
<line x1="957.8" y1="467.2" x2="955.3" y2="467.2"/>
<line x1="113.2" y1="448.4" x2="115.7" y2="448.4"/>
<line x1="957.8" y1="448.4" x2="955.3" y2="448.4"/>
<line x1="113.2" y1="531.5" x2="118.2" y2="531.5"/>
<line x1="957.8" y1="531.5" x2="952.8" y2="531.5"/>
<line x1="113.2" y1="595.8" x2="115.7" y2="595.8"/>
<line x1="957.8" y1="595.8" x2="955.3" y2="595.8"/>
<line x1="113.2" y1="559.2" x2="115.7" y2="559.2"/>
<line x1="957.8" y1="559.2" x2="955.3" y2="559.2"/>
<line x1="113.2" y1="540.4" x2="115.7" y2="540.4"/>
<line x1="957.8" y1="540.4" x2="955.3" y2="540.4"/>
<line x1="113.2" y1="623.5" x2="118.2" y2="623.5"/>
<line x1="957.8" y1="623.5" x2="952.8" y2="623.5"/>
<line x1="113.2" y1="687.8" x2="115.7" y2="687.8"/>
<line x1="957.8" y1="687.8" x2="955.3" y2="687.8"/>
<line x1="113.2" y1="651.2" x2="115.7" y2="651.2"/>
<line x1="957.8" y1="651.2" x2="955.3" y2="651.2"/>
<line x1="113.2" y1="632.4" x2="115.7" y2="632.4"/>
<line x1="957.8" y1="632.4" x2="955.3" y2="632.4"/>
<line x1="113.2" y1="715.5" x2="118.2" y2="715.5"/>
<line x1="957.8" y1="715.5" x2="952.8" y2="715.5"/>
</g>
<g font-family="'DejaVu Sans','Liberation Sans',sans-serif" font-size="9.3" fill="#5c5c5c">
<text x="107.5" y="166.9" text-anchor="end">100</text>
<text x="107.5" y="258.9" text-anchor="end">10</text>
<text x="107.5" y="350.9" text-anchor="end">1</text>
<text x="107.5" y="442.9" text-anchor="end">0.1</text>
<text x="107.5" y="534.9" text-anchor="end">0.01</text>
<text x="107.5" y="626.9" text-anchor="end">0.001</text>
<text x="107.5" y="718.9" text-anchor="end">0.0001</text>
<text x="113.8" y="729.6" text-anchor="middle">0</text>
<text x="156.0" y="729.6" text-anchor="middle">0.5</text>
<text x="198.3" y="729.6" text-anchor="middle">1</text>
<text x="240.5" y="729.6" text-anchor="middle">1.5</text>
<text x="282.7" y="729.6" text-anchor="middle">2</text>
<text x="324.9" y="729.6" text-anchor="middle">2.5</text>
<text x="367.2" y="729.6" text-anchor="middle">3</text>
<text x="409.4" y="729.6" text-anchor="middle">3.5</text>
<text x="451.6" y="729.6" text-anchor="middle">4</text>
<text x="493.9" y="729.6" text-anchor="middle">4.5</text>
<text x="536.1" y="729.6" text-anchor="middle">5</text>
<text x="578.3" y="729.6" text-anchor="middle">5.5</text>
<text x="620.6" y="729.6" text-anchor="middle">6</text>
<text x="662.8" y="729.6" text-anchor="middle">6.5</text>
<text x="705.0" y="729.6" text-anchor="middle">7</text>
<text x="747.2" y="729.6" text-anchor="middle">7.5</text>
<text x="789.5" y="729.6" text-anchor="middle">8</text>
<text x="831.7" y="729.6" text-anchor="middle">8.5</text>
<text x="873.9" y="729.6" text-anchor="middle">9</text>
<text x="916.2" y="729.6" text-anchor="middle">9.5</text>
<text x="958.4" y="729.6" text-anchor="middle">10</text>
<text x="535.5" y="745.6" text-anchor="middle">DNS resolution time (at server) (ms)</text>
<text x="535.5" y="150.6" text-anchor="middle">DNS Query Time Distribution</text>
<text transform="translate(60.3,440.5) rotate(-90)" text-anchor="middle">Percent of experiments</text>
<text x="915" y="176.3" text-anchor="end">A: DNSSEC</text>
<text x="915" y="187.3" text-anchor="end">B: DNSSEC</text>
</g>
<line x1="918.5" y1="173" x2="947.5" y2="173" stroke="#f60c0c" stroke-width="2.4"/>
<line x1="918.5" y1="184" x2="947.5" y2="184" stroke="#12f412" stroke-width="2.4"/>
<line x1="918.5" y1="195" x2="947.5" y2="195" stroke="#0e0eee" stroke-width="2.4"/>
</g>
</svg>

<div class="tb"><div class="t">This is more like what we expected to see!
<ul>
<li><span class="b">&bull;</span>For most clients the time taken to perform the<br>DNS queries for the DNSSEC-signed names is<br>longer than the unsigned name</li>
<li><span class="b">&bull;</span>The time taken to perform the DNS queries for<br>the invalidly-signed DNSSEC name is longer<br>than the well-signed name</li>
</ul></div></div>

<div class="ub"><span>This is unexpected!</span></div>

<svg class="ov" width="1024" height="768" viewBox="0 0 1024 768" fill="none" stroke-linecap="round" stroke-linejoin="round">
  <path d="M979.4,652.5 C974.3,651.0 960.6,647.3 948.6,643.8 C936.6,640.3 921.3,635.9 907.6,631.5 C893.9,627.1 880.3,621.6 866.6,617.2 C852.9,612.8 839.3,608.6 825.6,604.9 C811.9,601.2 799.0,597.5 784.6,595.2 C770.2,592.9 753.2,590.8 739.5,591.0 C725.8,591.2 713.5,593.4 702.5,596.7 C691.5,600.0 682.7,605.2 673.8,611.0 C664.9,616.8 655.6,624.7 649.2,631.5 C642.8,638.3 638.5,645.5 635.5,652.0 C632.5,658.5 630.6,663.7 631.5,670.5 C632.4,677.3 634.6,685.5 641.0,693.0 C647.4,700.5 658.8,708.8 669.7,715.6 C680.6,722.4 690.9,728.6 706.6,734.0 C722.3,739.4 740.8,744.3 764.0,748.0 C787.2,751.7 818.7,754.8 846.0,756.2 C873.3,757.6 907.5,758.2 928.0,756.6 C948.5,755.0 958.7,752.2 969.0,746.4 C979.3,740.6 985.2,732.1 989.7,721.8 C994.2,711.5 995.7,697.4 996.0,684.8 C996.3,672.1 992.4,652.4 991.7,645.9" stroke="#bf9b12" stroke-width="6"/>
  <path d="M402,688.5 C400.5,703 402,716.5 422,721 C450,725.5 480,722 505,716.5 C560,704 600,695 641,686.5" stroke="#e5751a" stroke-width="7.2"/>
  <path d="M600,677 L644,686.8 L612,712.5" stroke="#e5751a" stroke-width="6.8"/>
</svg>
</body>
</html>
